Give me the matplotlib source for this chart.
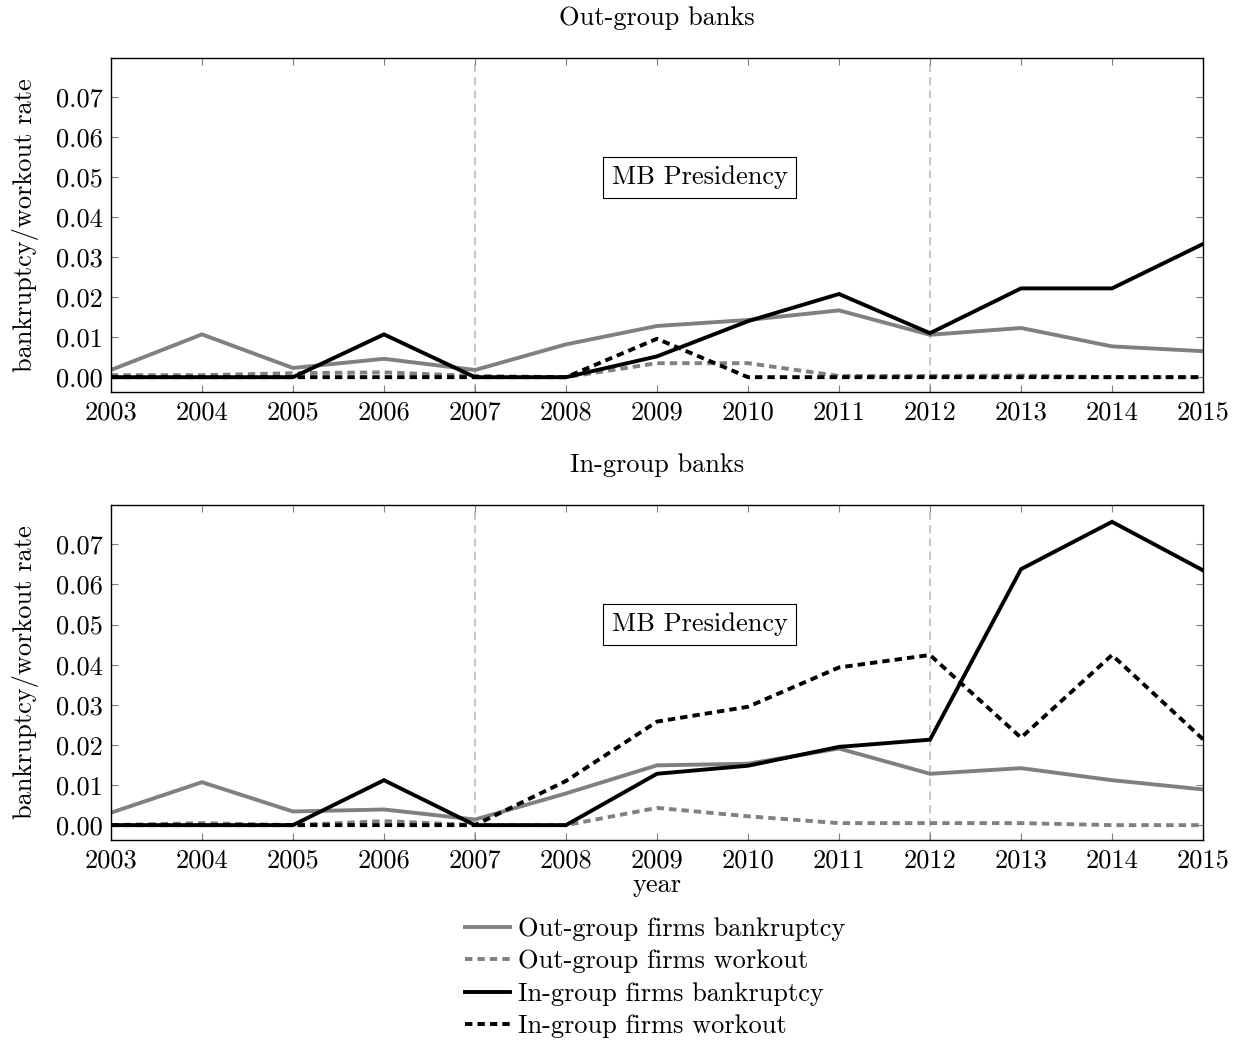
import matplotlib
matplotlib.use("Agg")
import matplotlib.pyplot as plt
from matplotlib.lines import Line2D

plt.rcParams["font.family"] = "serif"
plt.rcParams["font.serif"] = ["cmr10", "DejaVu Serif"]
plt.rcParams["mathtext.fontset"] = "cm"
plt.rcParams["axes.formatter.use_mathtext"] = True

years = list(range(2003, 2016))

# Out-group banks
out_banks_outfirm_bankr = [0.0018, 0.0107, 0.0023, 0.0046, 0.0018, 0.0082, 0.0128,
                           0.0143, 0.0167, 0.0106, 0.0123, 0.0077, 0.0065]
out_banks_outfirm_work = [0.0005, 0.0005, 0.0010, 0.0012, 0.0003, 0.0000, 0.0035,
                          0.0035, 0.0003, 0.0003, 0.0004, 0.0000, 0.0000]
out_banks_infirm_bankr = [0.0, 0.0, 0.0, 0.0107, 0.0, 0.0, 0.0052,
                          0.0140, 0.0208, 0.0110, 0.0222, 0.0222, 0.0333]
out_banks_infirm_work = [0.0, 0.0, 0.0, 0.0, 0.0, 0.0, 0.0096,
                         0.0, 0.0, 0.0, 0.0, 0.0, 0.0]

# In-group banks
in_banks_outfirm_bankr = [0.0031, 0.0107, 0.0034, 0.0039, 0.0014, 0.0079, 0.0149,
                          0.0153, 0.0191, 0.0128, 0.0142, 0.0112, 0.0089]
in_banks_outfirm_work = [0.0000, 0.0005, 0.0000, 0.0010, 0.0000, 0.0000, 0.0043,
                         0.0022, 0.0005, 0.0005, 0.0005, 0.0000, 0.0000]
in_banks_infirm_bankr = [0.0, 0.0, 0.0, 0.0112, 0.0, 0.0, 0.0128,
                         0.0148, 0.0195, 0.0213, 0.0638, 0.0756, 0.0635]
in_banks_infirm_work = [0.0, 0.0, 0.0, 0.0, 0.0, 0.0110, 0.0258,
                        0.0295, 0.0393, 0.0424, 0.0218, 0.0424, 0.0214]

panel_titles = ["Out-group banks", "In-group banks"]
series_labels = ["Out-group firms bankruptcy", "Out-group firms workout",
                 "In-group firms bankruptcy", "In-group firms workout"]
yticks = [0.00, 0.01, 0.02, 0.03, 0.04, 0.05, 0.06, 0.07]
presidency = (2007, 2012)

panels = [
    [out_banks_outfirm_bankr, out_banks_outfirm_work, out_banks_infirm_bankr, out_banks_infirm_work],
    [in_banks_outfirm_bankr, in_banks_outfirm_work, in_banks_infirm_bankr, in_banks_infirm_work],
]

GRAY = "#808080"
styles = [
    dict(color=GRAY, linestyle="-"),
    dict(color=GRAY, linestyle=(0, (1.9, 1.3))),
    dict(color="black", linestyle="-"),
    dict(color="black", linestyle=(0, (1.9, 1.3))),
]
LW = 2.8
FS = 19

fig = plt.figure(figsize=(12.41, 10.45), dpi=100)
axes_rects = [
    [0.0894, 0.6249, 0.8800, 0.3196],
    [0.0894, 0.1962, 0.8800, 0.3206],
]

for rect, title, series in zip(axes_rects, panel_titles, panels):
    ax = fig.add_axes(rect)
    for vals, st in zip(series, styles):
        ax.plot(years, vals, linewidth=LW, solid_joinstyle="miter", **st)
    for x in presidency:
        ax.axvline(x, color="#bdbdbd", linewidth=1.2, linestyle=(0, (5, 3)), zorder=0)
    ax.text(2009.47, 0.05, "MB Presidency", ha="center", va="center", fontsize=FS,
            bbox=dict(boxstyle="square,pad=0.32", facecolor="white",
                      edgecolor="black", linewidth=0.8))
    ax.set_xlim(2003, 2015)
    ax.set_ylim(-0.0037, 0.0798)
    ax.set_xticks(years)
    ax.set_xticklabels([str(y) for y in years])
    ax.set_yticks(yticks)
    ax.set_yticklabels([f"{v:.2f}" for v in yticks])
    ax.tick_params(axis="both", direction="in", length=5, width=0.8,
                   color="#808080", labelsize=FS, top=True, right=True, pad=6)
    for sp in ax.spines.values():
        sp.set_linewidth(1.0)
        sp.set_color("black")
    ax.set_ylabel("bankruptcy/workout rate", fontsize=FS, labelpad=12)
    ax.set_title(title, fontsize=FS, pad=24)

ax.set_xlabel("year", fontsize=FS, labelpad=1)

handles = [Line2D([], [], linewidth=LW, **st) for st in styles]
fig.legend(handles, series_labels, loc="upper center", bbox_to_anchor=(0.528, 0.135),
           frameon=False, fontsize=FS, handlelength=1.7, handletextpad=0.3,
           labelspacing=0.33, borderpad=0.0)

fig.savefig("out.png", dpi=100)
